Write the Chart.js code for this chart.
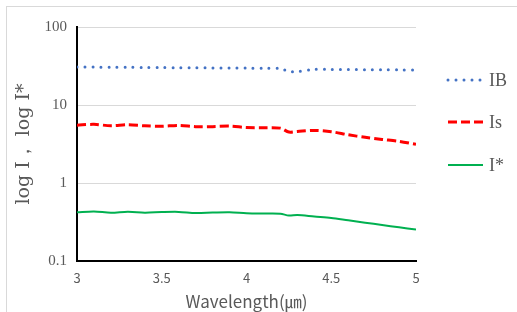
<!DOCTYPE html>
<html><head><meta charset="utf-8">
<script src="https://cdn.jsdelivr.net/npm/chart.js@4.4.0/dist/chart.umd.min.js"></script>
<style>html,body{margin:0;padding:0;background:#fff;}#wrap{width:517px;height:312px;position:relative;}</style>
</head><body><div id="wrap"><canvas id="c" width="517" height="312"></canvas></div>
<script>
const wavelength = [3.0,3.1,3.2,3.3,3.4,3.5,3.6,3.7,3.8,3.9,4.0,4.1,4.2,4.25,4.3,4.4,4.5,4.6,4.7,4.8,4.9,5.0];
const IB = [30.7,30.6,30.5,30.4,30.3,30.2,30.1,30.0,29.9,29.8,29.7,29.6,29.4,27.0,26.9,28.6,28.6,28.5,28.4,28.3,28.2,28.0];
const Is = [5.52,5.65,5.42,5.58,5.40,5.35,5.48,5.28,5.28,5.36,5.15,5.12,5.05,4.50,4.58,4.72,4.55,4.15,3.85,3.62,3.42,3.13];
const Istar = [0.421,0.432,0.415,0.428,0.417,0.424,0.426,0.412,0.418,0.422,0.41,0.406,0.404,0.382,0.39,0.372,0.356,0.332,0.31,0.29,0.27,0.253];
const yTicks = [0.1,1,10,100];
const xTicks = [3,3.5,4,4.5,5];
const seriesNames = ['IB','Is','I*'];

const pts = arr => wavelength.map((x,i)=>({x:x,y:arr[i]}));

const legendPlugin = {
  id:'customLegend',
  afterDraw(chart){
    const ctx = chart.ctx;
    ctx.save();
    ctx.strokeStyle = '#d9d9d9'; ctx.lineWidth = 1;
    ctx.strokeRect(6.5,6.5,520,320);
    const ys = [80,122,165];
    chart.data.datasets.forEach((ds,i)=>{
      ctx.save();
      ctx.strokeStyle = ds.borderColor;
      ctx.lineWidth = ds.borderWidth;
      ctx.lineCap = ds.borderCapStyle || 'butt';
      ctx.setLineDash(ds.borderDash || []);
      ctx.beginPath();
      ctx.moveTo(448, ys[i]); ctx.lineTo(483, ys[i]);
      ctx.stroke();
      ctx.restore();
      ctx.fillStyle = '#595959';
      ctx.font = '18px "Liberation Serif", serif';
      ctx.textBaseline = 'middle'; ctx.textAlign = 'left';
      ctx.fillText(ds.label, 489, ys[i]+1);
    });
    ctx.restore();
  }
};

new Chart(document.getElementById('c'), {
  type:'line',
  data:{datasets:[
    {label:seriesNames[0], data:pts(IB), borderColor:'#4472C4', borderWidth:3, borderDash:[0,8], borderCapStyle:'round', pointRadius:0, tension:0.3, fill:false},
    {label:seriesNames[1], data:pts(Is), borderColor:'#FF0000', borderWidth:3, borderDash:[9,4], borderCapStyle:'butt', pointRadius:0, tension:0.3, fill:false},
    {label:seriesNames[2], data:pts(Istar), borderColor:'#00B050', borderWidth:2, pointRadius:0, tension:0.3, fill:false}
  ]},
  options:{
    responsive:false, animation:false, devicePixelRatio:1,
    layout:{padding:{top:27,right:101,left:0,bottom:0}},
    plugins:{legend:{display:false}, tooltip:{enabled:false}},
    scales:{
      x:{type:'linear', min:3, max:5,
        afterBuildTicks(s){ s.ticks = xTicks.map(v=>({value:v})); },
        afterFit(s){ s.height = 51; },
        grid:{display:false, drawTicks:false},
        border:{display:true, color:'#000', width:2},
        ticks:{padding:9, color:'#595959', font:{family:'"Noto Sans CJK JP", sans-serif', size:13}, callback:v=>String(v), maxRotation:0},
        title:{display:true, text:'Wavelength(㎛)', color:'#595959', font:{family:'"Noto Sans CJK JP", sans-serif', size:17}, padding:{top:0,bottom:0}}
      },
      y:{type:'logarithmic', min:0.1, max:100,
        afterBuildTicks(s){ s.ticks = yTicks.map(v=>({value:v})); },
        afterFit(s){ s.width = 77; },
        grid:{color:'#d9d9d9', lineWidth:1, drawTicks:false},
        border:{display:true, color:'#000', width:2},
        ticks:{padding:10, color:'#595959', font:{family:'"Liberation Serif", serif', size:15}, callback:v=>String(v)},
        title:{display:true, text:'log I， log I*', color:'#595959', font:{family:'"DejaVu Serif", serif', size:19}, padding:{top:13,bottom:0}}
      }
    }
  },
  plugins:[legendPlugin]
});
</script></body></html>
